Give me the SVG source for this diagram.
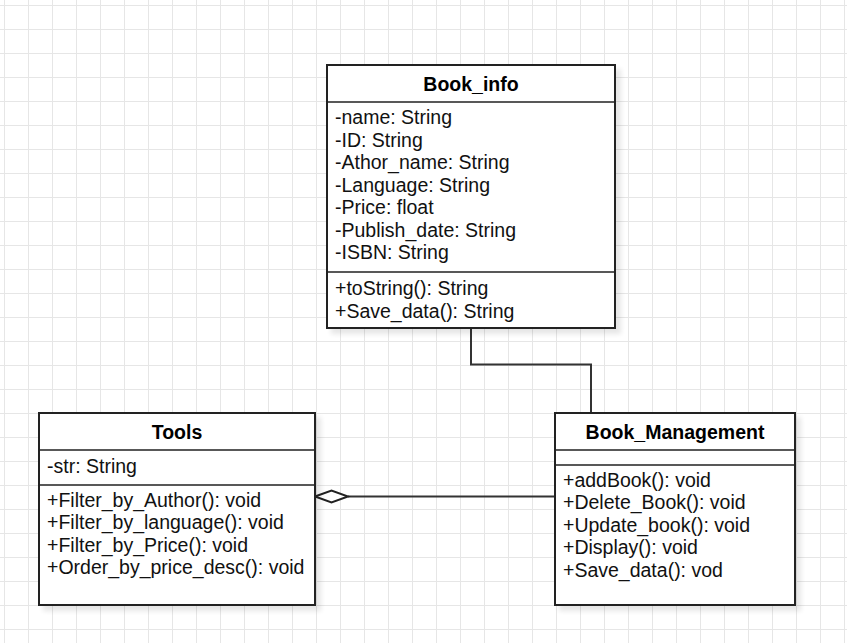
<svg xmlns="http://www.w3.org/2000/svg" width="847" height="643" viewBox="0 0 847 643">
<defs>
<pattern id="grid" x="4" y="5" width="24" height="24" patternUnits="userSpaceOnUse">
<path d="M0 0.5H24M0.5 0V24" fill="none" stroke="#e6e6e6" stroke-width="1"/>
</pattern>
<filter id="shadow" x="-10%" y="-10%" width="130%" height="130%">
<feGaussianBlur in="SourceAlpha" stdDeviation="2.5"/>
<feOffset dx="5" dy="5" result="b"/>
<feComponentTransfer><feFuncA type="linear" slope="0.1"/></feComponentTransfer>
<feMerge><feMergeNode/><feMergeNode in="SourceGraphic"/></feMerge>
</filter>
</defs>
<style>
.box{fill:#fff;stroke:#222;stroke-width:2}
.div{stroke:#222;stroke-width:1.6;fill:none}
.title{font-family:"Liberation Sans",Arial,sans-serif;font-size:19.5px;font-weight:bold;fill:#000;text-anchor:middle}
.t{font-family:"Liberation Sans",Arial,sans-serif;font-size:19.5px;fill:#111}
.conn{fill:none;stroke:#333;stroke-width:2}
</style>
<rect width="847" height="643" fill="#fff"/>
<rect width="847" height="643" fill="url(#grid)"/>

<g id="connectors">
<path class="conn" d="M471 328V364.5H591V412"/>
<path class="conn" d="M348 496.5H554"/>
<path d="M315 496.5L331.5 490.5L348 496.5L331.5 502.5Z" fill="#fff" stroke="#222" stroke-width="2"/>
</g>

<g id="Book_info">
<rect class="box" x="327" y="65" width="288" height="263" filter="url(#shadow)"/>
<path class="div" d="M327 102H615M327 272H615"/>
<text class="title" x="471" y="91">Book_info</text>
<text class="t" x="335" y="124">-name: String</text>
<text class="t" x="335" y="146.5">-ID: String</text>
<text class="t" x="335" y="169">-Athor_name: String</text>
<text class="t" x="335" y="191.5">-Language: String</text>
<text class="t" x="335" y="214">-Price: float</text>
<text class="t" x="335" y="236.5">-Publish_date: String</text>
<text class="t" x="335" y="259">-ISBN: String</text>
<text class="t" x="335" y="295">+toString(): String</text>
<text class="t" x="335" y="317.5">+Save_data(): String</text>
</g>

<g id="Tools">
<rect class="box" x="39" y="413" width="276" height="192" filter="url(#shadow)"/>
<path class="div" d="M39 450H315M39 485H315"/>
<text class="title" x="177" y="438.5">Tools</text>
<text class="t" x="47" y="473">-str: String</text>
<text class="t" x="47" y="506.5">+Filter_by_Author(): void</text>
<text class="t" x="47" y="529">+Filter_by_language(): void</text>
<text class="t" x="47" y="551.5">+Filter_by_Price(): void</text>
<text class="t" x="47" y="574">+Order_by_price_desc(): void</text>
</g>

<g id="Book_Management">
<rect class="box" x="555" y="413" width="240" height="192" filter="url(#shadow)"/>
<path class="div" d="M555 450H795M555 465H795"/>
<text class="title" x="675" y="438.5">Book_Management</text>
<text class="t" x="563" y="486.5">+addBook(): void</text>
<text class="t" x="563" y="509">+Delete_Book(): void</text>
<text class="t" x="563" y="531.5">+Update_book(): void</text>
<text class="t" x="563" y="554">+Display(): void</text>
<text class="t" x="563" y="576.5">+Save_data(): vod</text>
</g>
</svg>
